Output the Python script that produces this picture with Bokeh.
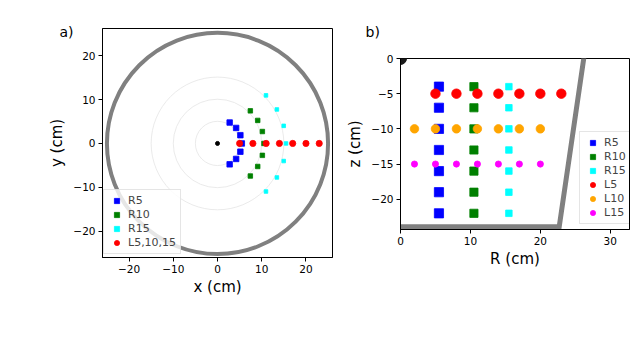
import numpy as np
from bokeh.plotting import figure
from bokeh.layouts import row, column
from bokeh.models import (Range1d, Legend, LegendItem, Title,
                          CustomJSTickFormatter, FixedTicker)
from bokeh.embed import file_html
from bokeh.resources import INLINE

# ---------------- data ----------------
# panel a (top view)
vessel_radius = [25.0]
guide_radii = [5.0, 10.0, 15.0]
r5_radius = 5.5
r5_angles_deg = [-60, -40, -20, 0, 20, 40, 60]
r10_radius = 10.5
r10_angles_deg = [-45, -30, -15, 0, 15, 30, 45]
r15_radius = 15.5
r15_angles_deg = [-45, -30, -15, 0, 15, 30, 45]
l_x = [5, 8, 11, 14, 17, 20, 23]
l_y = [0, 0, 0, 0, 0, 0, 0]

# panel b (side view)
r_probe_z = [-4, -7, -10, -13, -16, -19, -22]
r5_R = [5.5] * 7
r10_R = [10.5] * 7
r15_R = [15.5] * 7
l5_R = [5, 8, 11, 14, 17, 20, 23]
l5_z = [-5] * 7
l10_R = [2, 5, 8, 11, 14, 17, 20]
l10_z = [-10] * 7
l15_R = [2, 5, 8, 11, 14, 17, 20]
l15_z = [-15] * 7
vessel_R = [0.0, 22.7, 26.5]
vessel_z = [-23.9, -23.9, 2.0]

ticks_a = [-20, -10, 0, 10, 20]
ticks_bx = [0, 10, 20, 30]
ticks_bz = [0, -5, -10, -15, -20]

FONT = "DejaVu Sans"


def polar(r, angles):
    a = np.radians(angles)
    return list(r * np.cos(a)), list(r * np.sin(a))


def minus_fmt():
    return CustomJSTickFormatter(
        code="return tick < 0 ? '\u2212' + Math.abs(tick) : String(tick);")


def style(p):
    p.grid.visible = False
    p.outline_line_color = "black"
    p.outline_line_width = 1
    p.background_fill_color = "white"
    p.border_fill_color = "white"
    for ax in p.axis:
        ax.axis_line_color = "black"
        ax.major_tick_line_color = "black"
        ax.major_tick_out = 4
        ax.major_tick_in = 0
        ax.minor_tick_out = 0
        ax.minor_tick_in = 0
        ax.major_label_text_font = FONT
        ax.major_label_text_font_size = "10.5px"
        ax.major_label_text_color = "black"
        ax.major_label_standoff = 3
        ax.axis_label_text_font = FONT
        ax.axis_label_text_font_size = "15px"
        ax.axis_label_text_font_style = "normal"
        ax.axis_label_text_color = "black"
        ax.formatter = minus_fmt()


def make_legend(items, loc):
    return Legend(items=items, location=loc, border_line_color="#cccccc",
                  border_line_width=1, background_fill_color="white",
                  background_fill_alpha=0.8, padding=4, spacing=1, margin=0,
                  label_height=13, glyph_height=13, glyph_width=17,
                  label_standoff=3, label_text_font=FONT,
                  label_text_font_size="11px")


def panel_tag(text, offset, standoff):
    return Title(text=text, align="left", offset=offset, standoff=standoff,
                 vertical_align="bottom", text_font=FONT,
                 text_font_size="14px", text_font_style="normal",
                 text_color="black")


# ---------------- panel a ----------------
p1 = figure(width=340, height=310, min_border_left=102,
            min_border_right=8, min_border_top=28, min_border_bottom=53,
            x_range=Range1d(-26.0, 26.0), y_range=Range1d(-26.0, 26.2),
            output_backend="svg", toolbar_location=None)
style(p1)
p1.xaxis.ticker = FixedTicker(ticks=ticks_a)
p1.yaxis.ticker = FixedTicker(ticks=ticks_a)
p1.xaxis.axis_label = "x (cm)"
p1.yaxis.axis_label = "y (cm)"
p1.xaxis.axis_label_standoff = 2
p1.yaxis.axis_label_standoff = 4

p1.circle(x=[0] * len(guide_radii), y=[0] * len(guide_radii), radius=guide_radii,
          fill_color=None, line_color="#e4e4e4", line_width=0.8)
p1.circle(x=[0], y=[0], radius=vessel_radius, fill_color=None,
          line_color="#808080", line_width=4)
p1.scatter([0], [0], size=4, color="black")

x5, y5 = polar(r5_radius, r5_angles_deg)
x10, y10 = polar(r10_radius, r10_angles_deg)
x15, y15 = polar(r15_radius, r15_angles_deg)
ra5 = p1.scatter(x5, y5, marker="square", size=5.5, color="blue", line_width=0.8)
ra10 = p1.scatter(x10, y10, marker="square", size=4.5, color="green", line_width=0.8)
ra15 = p1.scatter(x15, y15, marker="square", size=3.6, color="cyan", line_width=0.8)
rl = p1.scatter(l_x, l_y, marker="circle", size=6.2, color="red", line_width=0.8)

leg_a = make_legend([LegendItem(label="R5", renderers=[ra5]),
                     LegendItem(label="R10", renderers=[ra10]),
                     LegendItem(label="R15", renderers=[ra15]),
                     LegendItem(label="L5,10,15", renderers=[rl])], (1, 3))
p1.add_layout(leg_a)
p1.add_layout(panel_tag("a)", -43, -22), "above")

# ---------------- panel b ----------------
p2 = figure(width=298, height=282, min_border_left=60,
            min_border_right=9, min_border_top=58, min_border_bottom=53,
            x_range=Range1d(0, 32.75), y_range=Range1d(-24.3, 0),
            output_backend="svg", toolbar_location=None)
style(p2)
p2.xaxis.ticker = FixedTicker(ticks=ticks_bx)
p2.yaxis.ticker = FixedTicker(ticks=ticks_bz)
p2.xaxis.axis_label = "R (cm)"
p2.yaxis.axis_label = "z (cm)"
p2.xaxis.axis_label_standoff = 2
p2.yaxis.axis_label_standoff = 4

p2.line(vessel_R, vessel_z, line_color="#808080", line_width=5, line_join="miter")
p2.scatter([0], [0], size=12, color="#1a1a1a")

rb5 = p2.scatter(r5_R, r_probe_z, marker="square", size=9.2, color="blue", line_width=0.8)
rb10 = p2.scatter(r10_R, r_probe_z, marker="square", size=8.2, color="green", line_width=0.8)
rb15 = p2.scatter(r15_R, r_probe_z, marker="square", size=6.5, color="cyan", line_width=0.8)
lb5 = p2.scatter(l5_R, l5_z, marker="circle", size=9.5, color="red", line_width=0.8)
lb10 = p2.scatter(l10_R, l10_z, marker="circle", size=8.5, color="orange", line_width=0.8)
lb15 = p2.scatter(l15_R, l15_z, marker="circle", size=6.2, color="magenta", line_width=0.8)

leg_b = make_legend([LegendItem(label="R5", renderers=[rb5]),
                     LegendItem(label="R10", renderers=[rb10]),
                     LegendItem(label="R15", renderers=[rb15]),
                     LegendItem(label="L5", renderers=[lb5]),
                     LegendItem(label="L10", renderers=[lb10]),
                     LegendItem(label="L15", renderers=[lb15])], (179, 5))
p2.add_layout(leg_b)
p2.add_layout(panel_tag("b)", -35, 38), "above")

layout = row(p1, column(p2))
open("out.html", "w").write(file_html(layout, INLINE))
